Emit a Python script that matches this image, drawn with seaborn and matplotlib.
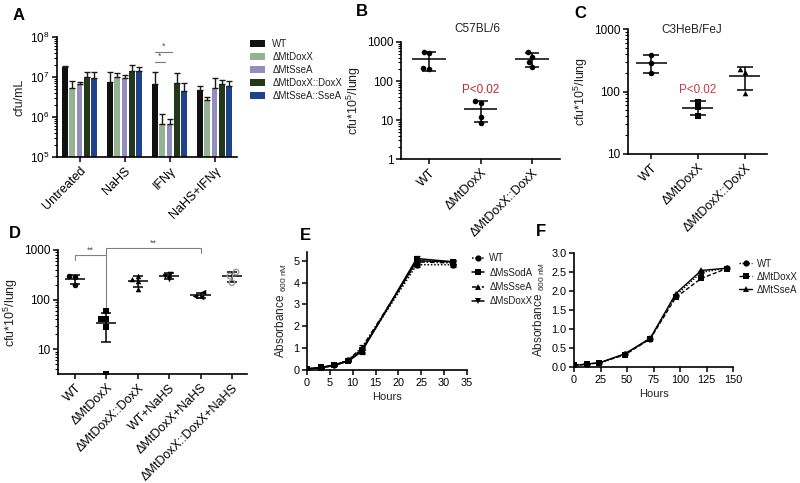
import numpy as np
import pandas as pd
import matplotlib
matplotlib.use('Agg')
import matplotlib.pyplot as plt
import seaborn as sns
from matplotlib.ticker import FuncFormatter, LogFormatterSciNotation

# ---- panel A: cfu/mL bars (mean and top of error bar) ----
a_groups = ['Untreated', 'NaHS', 'IFNγ', 'NaHS+IFNγ']
a_strains = ['WT', 'ΔMtDoxX', 'ΔMtSseA', 'ΔMtDoxX::DoxX', 'ΔMtSseA::SseA']
a_colors = ['#111111', '#8fb98a', '#8c86c6', '#213d14', '#0b3d9c']
a_wt = [1.75e7, 7.4e6, 6.6e6, 4.7e6]
a_doxx = [5.4e6, 9.8e6, 6.8e5, 2.66e6]
a_ssea = [6.6e6, 9.3e6, 6.8e5, 5.2e6]
a_doxx_c = [1.02e7, 1.41e7, 6.9e6, 6.6e6]
a_ssea_c = [9.6e6, 1.44e7, 4.55e6, 5.96e6]
a_wt_top = [1.88e7, 1.3e7, 1.3e7, 6.1e6]
a_doxx_top = [7.9e6, 1.28e7, 1.19e6, 3.1e6]
a_ssea_top = [7.6e6, 1.12e7, 8.9e5, 9.3e6]
a_doxx_c_top = [1.36e7, 2.0e7, 1.24e7, 8.4e6]
a_ssea_c_top = [1.3e7, 1.8e7, 6.9e6, 8.1e6]

# ---- panel B: C57BL/6 lungs ----
b_cats = ['WT', 'ΔMtDoxX', 'ΔMtDoxX::DoxX']
b_wt = [565, 515, 200, 211]
b_doxx = [30.7, 27, 12.2, 8.5]
b_comp = [543, 420, 302, 225]

# ---- panel C: C3HeB/FeJ lungs ----
c_cats = ['WT', 'ΔMtDoxX', 'ΔMtDoxX::DoxX']
c_wt = [380, 287, 197]
c_doxx = [69, 56, 41]
c_comp = [232, 205, 95]

# ---- panel D: lungs with NaHS ----
d_cats = ['WT', 'ΔMtDoxX', 'ΔMtDoxX::DoxX', 'WT+NaHS', 'ΔMtDoxX+NaHS', 'ΔMtDoxX::DoxX+NaHS']
d_wt = [302, 292, 200]
d_doxx = [58, 41, 41, 28, 3.2]
d_comp = [305, 260, 235, 165]
d_wt_nahs = [335, 305, 255]
d_doxx_nahs = [140, 118, 112]
d_comp_nahs = [360, 300, 220]

# ---- panel E: M. smegmatis growth ----
e_strains = ['WT', 'ΔMsSodA', 'ΔMsSseA', 'ΔMsDoxX']
e_hours = [0, 3, 6, 9, 12, 24, 32]
e_wt = [0.05, 0.11, 0.22, 0.45, 0.95, 4.82, 4.82]
e_soda = [0.05, 0.12, 0.23, 0.40, 0.85, 5.10, 4.95]
e_ssea = [0.05, 0.10, 0.22, 0.46, 1.02, 4.95, 4.90]
e_doxx = [0.05, 0.10, 0.20, 0.42, 0.90, 5.00, 4.95]
e_sd = [0, 0, 0, 0.03, 0.12, 0.10, 0.10]

# ---- panel F: M. tuberculosis growth ----
f_strains = ['WT', 'ΔMtDoxX', 'ΔMtSseA']
f_hours = [0, 12, 24, 48, 72, 96, 120, 144]
f_wt = [0.04, 0.08, 0.11, 0.33, 0.75, 1.88, 2.49, 2.60]
f_doxx = [0.04, 0.07, 0.11, 0.32, 0.74, 1.83, 2.33, 2.59]
f_ssea = [0.04, 0.08, 0.11, 0.35, 0.76, 1.93, 2.54, 2.60]

W, H = 800, 483

sns.set_theme(style='ticks')
plt.rcParams['font.family'] = ['Liberation Sans', 'DejaVu Sans']
plt.rcParams.update({
    'mathtext.fontset': 'custom', 'mathtext.rm': 'Liberation Sans',
    'mathtext.it': 'Liberation Sans:italic', 'mathtext.bf': 'Liberation Sans:bold',
    'font.size': 8, 'axes.linewidth': 1.2, 'axes.edgecolor': 'black',
    'xtick.color': 'black', 'ytick.color': 'black',
    'xtick.major.width': 1.1, 'ytick.major.width': 1.1,
    'xtick.major.size': 3.5, 'ytick.major.size': 3.5,
    'ytick.minor.size': 2, 'ytick.minor.width': 0.8,
    'xtick.labelsize': 9, 'ytick.labelsize': 8.5, 'axes.labelsize': 9,
    'xtick.major.pad': 2, 'ytick.major.pad': 2, 'axes.labelpad': 3,
    'text.color': '#222222', 'axes.labelcolor': '#222222',
})


def px_axes(fig, l, t, r, b):
    return fig.add_axes([l / W, 1 - b / H, (r - l) / W, (b - t) / H])


def rot_labels(ax):
    for lab in ax.get_xticklabels():
        lab.set_rotation(45)
        lab.set_ha('right')
        lab.set_rotation_mode('anchor')


def dots(ax, cats, groups, markers, half, cap):
    for i, (vals, m) in enumerate(zip(groups, markers)):
        sns.swarmplot(x=[cats[i]] * len(vals), y=vals, order=cats, marker=m,
                      color='black', size=4, ax=ax, zorder=3)
        coll = ax.collections[-1]
        mu, sd = np.mean(vals), np.std(vals, ddof=1)
        ax.hlines(mu, i - half, i + half, color='black', lw=1.1, zorder=2)
        ax.errorbar(i, mu, yerr=sd, fmt='none', ecolor='black', elinewidth=1.1,
                    capsize=cap, capthick=1.1, zorder=2)
        yield coll


plain = FuncFormatter(lambda v, p: f'{v:g}')
fig = plt.figure(figsize=(8, 4.83), dpi=100)

# ---------------- A ----------------
ax = px_axes(fig, 57, 37, 237, 157)
ax.set_yscale('log')
a_df = pd.DataFrame({
    'group': a_groups * 5,
    'strain': np.repeat(a_strains, 4),
    'cfu': a_wt + a_doxx + a_ssea + a_doxx_c + a_ssea_c,
})
sns.barplot(data=a_df, x='group', y='cfu', hue='strain', order=a_groups,
            hue_order=a_strains, palette=a_colors, errorbar=None, width=0.8,
            gap=0.2, edgecolor='none', ax=ax)
tops = [a_wt_top, a_doxx_top, a_ssea_top, a_doxx_c_top, a_ssea_c_top]
means = [a_wt, a_doxx, a_ssea, a_doxx_c, a_ssea_c]
centers = []
for cont, m, t in zip(ax.containers, means, tops):
    xs = [b.get_x() + b.get_width() / 2 for b in cont]
    centers.append(xs)
    ax.errorbar(xs, m, yerr=[np.zeros(4), np.array(t) - np.array(m)], fmt='none',
                ecolor='#1a1a1a', elinewidth=1, capsize=2.2, capthick=1)
ax.set_ylim(1e5, 1e8)
ax.set_xlim(-0.5, 3.5)
ax.yaxis.set_major_formatter(LogFormatterSciNotation())
ax.set_xlabel('')
ax.set_ylabel('cfu/mL')
rot_labels(ax)
handles, labels = ax.get_legend_handles_labels()
ax.get_legend().remove()
fig.legend(handles, labels, loc='upper left', bbox_to_anchor=(250 / W, 1 - 39 / H),
           frameon=False, fontsize=7, handlelength=1.5, handleheight=0.8,
           labelspacing=0.3, handletextpad=0.8, borderaxespad=0, borderpad=0)
# significance lines over IFNγ
wt_x = centers[0][2]
for tgt, yl in [(centers[2][2] + 0.06, 4.2e7), (centers[1][2] + 0.06, 2.4e7)]:
    ax.plot([wt_x, tgt], [yl, yl], color='#777777', lw=0.8)
    ax.text((wt_x + tgt) / 2, yl * 1.05, '*', ha='center', va='bottom', fontsize=6.5, color='#555555')
sns.despine(ax=ax)

# ---------------- B ----------------
ax = px_axes(fig, 401, 42, 560, 159)
ax.set_yscale('log')
list(dots(ax, b_cats, [b_wt, b_doxx, b_comp], ['o', 'o', 'o'], 0.33, 5))
ax.set_ylim(1, 1000)
ax.set_xlim(-0.55, 2.55)
ax.yaxis.set_major_formatter(plain)
ax.set_ylabel('cfu*10$^5$/lung')
ax.set_xlabel('')
rot_labels(ax)
ax.text(0.48, 1.11, 'C57BL/6', transform=ax.transAxes, ha='center', va='center', fontsize=8.5)
ax.text(1, 59, 'P<0.02', color='#c0282d', ha='center', va='center', fontsize=8.4)
sns.despine(ax=ax)

# ---------------- C ----------------
ax = px_axes(fig, 628, 29, 767, 154)
ax.set_yscale('log')
list(dots(ax, c_cats, [c_wt, c_doxx, c_comp], ['o', 's', '^'], 0.33, 6))
ax.set_ylim(10, 1000)
ax.set_xlim(-0.49, 2.47)
ax.yaxis.set_major_formatter(plain)
ax.set_ylabel('cfu*10$^5$/lung')
ax.set_xlabel('')
rot_labels(ax)
ax.text(0.46, 0.99, 'C3HeB/FeJ', transform=ax.transAxes, ha='center', va='center', fontsize=8.5)
ax.text(1, 104, 'P<0.02', color='#c43c4c', ha='center', va='center', fontsize=8.4)
sns.despine(ax=ax)

# ---------------- D ----------------
ax = px_axes(fig, 58, 250, 247, 374)
ax.set_yscale('log')
colls = list(dots(ax, d_cats, [d_wt, d_doxx, d_comp, d_wt_nahs, d_doxx_nahs, d_comp_nahs],
                  ['o', 's', '^', 'v', '<', 'o'], 0.32, 3.6))
colls[1].set_clip_on(False)
colls[5].set_facecolor('none')
colls[5].set_edgecolor('#9a9a9a')
colls[5].set_linewidth(1)
ax.set_ylim(3.2, 1000)
ax.set_xlim(-0.54, 5.48)
ax.yaxis.set_major_formatter(plain)
ax.set_ylabel('cfu*10$^5$/lung')
ax.set_xlabel('')
rot_labels(ax)
br = dict(color='#808080', lw=0.8, clip_on=False)
ax.plot([0, 0, 1], [630, 794, 794], **br)
ax.plot([1, 1], [60, 1080], **br)
ax.plot([1, 4, 4], [1080, 1080, 860], **br)
ax.text(0.5, 800, '**', ha='center', va='bottom', fontsize=6.5, color='#555555')
ax.text(2.5, 1090, '**', ha='center', va='bottom', fontsize=6.5, color='#555555')
sns.despine(ax=ax)

# ---------------- E ----------------
ax = px_axes(fig, 307, 252, 467, 370)
e_df = pd.DataFrame({
    'hour': e_hours * 4,
    'od': e_wt + e_soda + e_ssea + e_doxx,
    'strain': np.repeat(e_strains, len(e_hours)),
})
sns.lineplot(data=e_df, x='hour', y='od', style='strain', style_order=e_strains,
             markers=dict(zip(e_strains, ['o', 's', '^', 'v'])),
             dashes=dict(zip(e_strains, [(1, 1.2), '', (3, 1.2, 1, 1.2), ''])),
             color='black', markersize=4.5, linewidth=1.1, markeredgewidth=0, ax=ax)
for vals in [e_wt, e_soda, e_ssea, e_doxx]:
    ax.errorbar(e_hours, vals, yerr=e_sd, fmt='none', ecolor='black', elinewidth=0.9,
                capsize=2, capthick=0.9)
ax.set_xlim(0, 35)
ax.set_ylim(0, 5.4)
ax.set_xticks(range(0, 36, 5))
ax.set_yticks(range(0, 6))
ax.tick_params(labelsize=7.8)
ax.set_xlabel('Hours', fontsize=8)
ax.set_ylabel(r'Absorbance $_{\mathregular{600\ nM}}$', fontsize=8.5)
h, l = ax.get_legend_handles_labels()
ax.legend(h, l, loc='upper left', bbox_to_anchor=(1.03, 0.99), frameon=False,
          fontsize=7, handlelength=1.3, labelspacing=0.45, handletextpad=0.5,
          borderaxespad=0, borderpad=0)
sns.despine(ax=ax)

# ---------------- F ----------------
ax = px_axes(fig, 574, 253, 733, 367)
f_df = pd.DataFrame({
    'hour': f_hours * 3,
    'od': f_wt + f_doxx + f_ssea,
    'strain': np.repeat(f_strains, len(f_hours)),
})
sns.lineplot(data=f_df, x='hour', y='od', style='strain', style_order=f_strains,
             markers=dict(zip(f_strains, ['o', 's', '^'])),
             dashes=dict(zip(f_strains, [(1, 1.2), (3, 1.5), ''])),
             color='black', markersize=4.5, linewidth=1.0, markeredgewidth=0, ax=ax)
ax.set_xlim(0, 150)
ax.set_ylim(0, 3.0)
ax.set_xticks(range(0, 151, 25))
ax.set_yticks(np.arange(0, 3.01, 0.5))
ax.yaxis.set_major_formatter(FuncFormatter(lambda v, p: f'{v:.1f}'))
ax.tick_params(labelsize=7.8)
ax.set_xlabel('Hours', fontsize=8)
ax.set_ylabel(r'Absorbance $_{\mathregular{600\ nM}}$', fontsize=8.5)
h, l = ax.get_legend_handles_labels()
ax.legend(h, l, loc='upper left', bbox_to_anchor=(1.04, 0.95), frameon=False,
          fontsize=7, handlelength=1.3, labelspacing=0.3, handletextpad=0.5,
          borderaxespad=0, borderpad=0)
sns.despine(ax=ax)

# panel letters
for letter, x, y in [('A', 19, 16), ('B', 362, 12), ('C', 580, 14),
                     ('D', 15, 234), ('E', 305, 236), ('F', 541, 232)]:
    fig.text(x / W, 1 - y / H, letter, fontsize=12, fontweight='bold',
             color='black', ha='center', va='center')

fig.savefig('out.png', dpi=100)
